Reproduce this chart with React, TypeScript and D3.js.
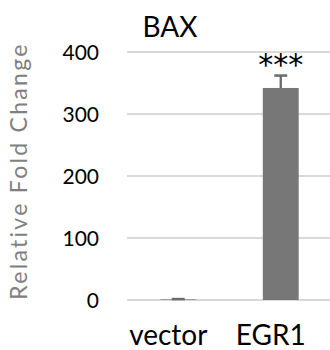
import * as d3 from 'd3';
import React from 'react';

const categories = ['vector', 'EGR1'];
const values = [1, 342];
const errors = [0.5, 20];
const significance = ['', '***'];
const yTicks = [0, 100, 200, 300, 400];

const FONT = 'Lato, "Open Sans", sans-serif';

const App: React.FC = () => {
  const width = 330;
  const height = 350;
  const plot = { left: 127, right: 332, top: 52, bottom: 300 };

  const x = d3.scalePoint<string>().domain(categories).range([plot.left, plot.right]).padding(0.5);
  const y = d3.scaleLinear().domain([0, 400]).range([plot.bottom, plot.top]);
  const barWidth = x.step() * 0.35;
  const capWidth = 13;

  return (
    <svg
      width={width}
      height={height}
      style={{ position: 'absolute', left: 0, top: 0, background: '#fff' }}
      fontFamily={FONT}
    >
      {yTicks.map((t) => (
        <g key={`grid-${t}`}>
          <line x1={plot.left} x2={width} y1={y(t)} y2={y(t)} stroke="#d9d9d9" strokeWidth={2} />
          <text x={99} y={y(t)} dy="0.36em" textAnchor="end" fontSize={21} fill="#000">
            {t}
          </text>
        </g>
      ))}

      {categories.map((c, i) => {
        const cx = x(c) ?? 0;
        const top = y(values[i]);
        const hi = y(values[i] + errors[i]);
        const lo = y(values[i] - errors[i]);
        return (
          <g key={c}>
            <rect x={cx - barWidth / 2} y={top} width={barWidth} height={plot.bottom - top} fill="#777777" />
            <line x1={cx} x2={cx} y1={hi} y2={lo} stroke="#777777" strokeWidth={2} />
            <line x1={cx} x2={cx} y1={hi} y2={top} stroke="#6b6b6b" strokeWidth={2} />
            <line x1={cx - capWidth / 2} x2={cx + capWidth / 2} y1={hi} y2={hi} stroke="#6b6b6b" strokeWidth={2.5} />
            {significance[i] && (
              <text
                x={cx}
                y={hi - 1}
                textAnchor="middle"
                fontSize={30}
                fontFamily='"DejaVu Sans", sans-serif'
                fill="#000"
              >
                {significance[i]}
              </text>
            )}
            <text x={cx - 10} y={345} textAnchor="middle" fontSize={28} fill="#000">
              {c}
            </text>
          </g>
        );
      })}

      <text x={170} y={37} textAnchor="middle" fontSize={28} fill="#000">
        BAX
      </text>

      <text
        transform={`translate(27,171) rotate(-90)`}
        textAnchor="middle"
        fontSize={23}
        letterSpacing={2.3}
        fill="#808080"
      >
        Relative Fold Change
      </text>
    </svg>
  );
};

export default App;
